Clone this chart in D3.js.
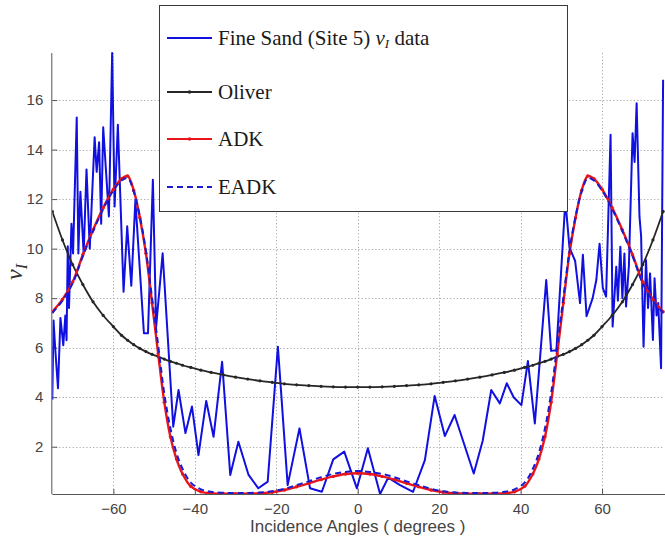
<!DOCTYPE html>
<html>
<head>
<meta charset="utf-8">
<script src="https://cdn.jsdelivr.net/npm/d3@7"></script>
<style>
  body { margin: 0; background: #fff; }
  svg { display: block; }
</style>
</head>
<body>
<svg id="chart" width="665" height="539"></svg>
<script>
// Measured Poisson-ratio-like parameter for fine sand, versus incidence angle
const dataAngles = [
  -75, -74.7, -74.3, -73.6, -73.0, -72.3, -71.8, -71.5, -71.2, -70.9, -70.3, -69.9,
  -69.0, -68.6, -68.1, -67.3, -66.6, -65.8, -64.6, -64.1, -63.5, -63.0, -62.5, -61.1,
  -60.3, -59.7, -58.9, -57.5, -56.6, -55.6, -54.6, -52.5, -51.5, -50.3, -49.5, -47.9,
  -45.3, -44.0, -42.3, -40.7, -39.1, -37.2, -35.4, -33.3, -31.3, -29.3, -26.8, -24.4,
  -22.1, -19.6, -17.2, -14.3, -11.7, -8.8, -6.0, -3.3, -0.2, 2.5, 5.5, 7.5,
  10.4, 13.6, 16.5, 18.9, 21.4, 23.8, 28.5, 30.7, 32.8, 34.9, 36.6, 38.3,
  40.2, 41.8, 43.5, 46.3, 47.5, 48.8, 51.0, 52.0, 53.4, 54.6, 55.3, 56.2,
  57.7, 58.6, 59.4, 60.2, 61.0, 62.1, 62.6, 63.5, 63.9, 64.5, 65.0, 65.5,
  65.9, 66.6, 67.5, 68.0, 68.5, 69.2, 69.6, 70.2, 70.8, 71.3, 71.8, 72.5,
  72.9, 73.4, 73.8, 74.5, 75.0
];
const dataValues = [
  3.9, 7.1, 6.0, 4.36, 7.2, 6.1, 7.3, 6.3, 10.1, 7.6, 11.0, 9.8,
  15.3, 9.8, 12.3, 9.8, 13.2, 10.0, 14.5, 13.1, 14.3, 11.0, 14.9, 11.3,
  17.9, 11.7, 15.0, 8.26, 10.9, 8.5, 11.95, 6.58, 6.58, 12.78, 6.85, 9.81,
  2.81, 4.29, 2.55, 3.62, 1.66, 3.85, 2.4, 5.43, 0.86, 2.2, 0.86, 0.32,
  0.59, 6.04, 0.45, 2.74, 0.32, 0.18, 1.49, 1.8, 0.32, 1.94, 0.09, 0.75,
  0.45, 0.18, 1.46, 4.05, 2.43, 3.28, 0.92, 2.24, 4.29, 3.75, 4.56, 4.0,
  3.68, 5.46, 2.94, 8.73, 5.87, 5.9, 11.95, 10.05, 9.5, 7.8, 9.75, 7.27,
  8.0, 8.73, 10.2, 8.4, 8.06, 14.6, 6.85, 9.27, 7.9, 10.08, 8.0, 9.8,
  7.66, 9.3, 14.66, 13.5, 15.87, 11.29, 10.5, 6.04, 9.54, 7.6, 9.0, 6.31,
  8.8, 7.3, 7.8, 5.17, 16.82
];

// Model curves share one angle grid
const modelAngles = [
  -75, -72.5, -70, -67.5, -65, -62.5, -60, -58, -56.5, -55, -53.5, -52, -50.5,
  -49, -47.5, -46, -44.5, -43, -41, -38.5, -36, -33, -30, -27, -24, -21, -18,
  -15, -12, -9, -6, -3, 0,
  3, 6, 9, 12, 15, 18, 21, 24, 27, 30, 33, 36, 38.5, 41, 43, 44.5, 46, 47.5,
  49, 50.5, 52, 53.5, 55, 56.5, 58, 60, 62.5, 65, 67.5, 70, 72.5, 75
];
const oliverValues = [
  11.5, 10.35, 9.35, 8.55, 7.85, 7.3, 6.85, 6.5, 6.3, 6.12, 5.97, 5.84, 5.73,
  5.64, 5.54, 5.45, 5.37, 5.29, 5.2, 5.09, 5.0, 4.9, 4.81, 4.73, 4.66, 4.6, 4.54,
  4.5, 4.47, 4.44, 4.42, 4.41, 4.41,
  4.41, 4.42, 4.44, 4.47, 4.5, 4.54, 4.6, 4.66, 4.73, 4.81, 4.9, 5.0, 5.09, 5.2,
  5.29, 5.37, 5.45, 5.54, 5.64, 5.73, 5.84, 5.97, 6.12, 6.3, 6.5, 6.85, 7.3,
  7.85, 8.55, 9.35, 10.35, 11.5
];
const adkValues = [
  7.45, 7.95, 8.65, 9.75, 10.75, 11.65, 12.4, 12.82, 12.93, 12.35, 11.25, 9.8, 7.8,
  5.75, 3.8, 2.4, 1.5, 0.9, 0.4, 0.18, 0.12, 0.1, 0.1, 0.1, 0.12, 0.16, 0.25,
  0.38, 0.52, 0.67, 0.8, 0.9, 0.93,
  0.9, 0.8, 0.67, 0.52, 0.38, 0.25, 0.16, 0.12, 0.1, 0.1, 0.1, 0.12, 0.18, 0.4,
  0.9, 1.5, 2.4, 3.8, 5.75, 7.8, 9.8, 11.25, 12.35, 12.93, 12.82, 12.4, 11.65,
  10.75, 9.75, 8.65, 7.95, 7.45
];
const eadkValues = [
  7.4, 7.9, 8.6, 9.7, 10.7, 11.6, 12.35, 12.75, 12.85, 12.3, 11.3, 9.9, 8.0,
  6.1, 4.15, 2.75, 1.75, 1.1, 0.55, 0.28, 0.18, 0.14, 0.13, 0.13, 0.15, 0.2, 0.3,
  0.45, 0.6, 0.77, 0.9, 0.98, 1.02,
  0.98, 0.9, 0.77, 0.6, 0.45, 0.3, 0.2, 0.15, 0.13, 0.13, 0.14, 0.18, 0.28, 0.55,
  1.1, 1.75, 2.75, 4.15, 6.1, 8.0, 9.9, 11.3, 12.3, 12.85, 12.75, 12.35, 11.6,
  10.7, 9.7, 8.6, 7.9, 7.4
];

const xTicks = [-60, -40, -20, 0, 20, 40, 60];
const yTicks = [2, 4, 6, 8, 10, 12, 14, 16];
const xDomain = [-75, 75];
const yDomain = [0.09, 17.9];

const svg = d3.select('#chart');
const plot = { left: 52.3, right: 663.1, top: 53, bottom: 494 };

const x = d3.scaleLinear().domain(xDomain).range([plot.left, plot.right]);
const y = d3.scaleLinear().domain(yDomain).range([plot.bottom, plot.top]);

const sansFont = "'Liberation Sans', Arial, Helvetica, sans-serif";
const serifFont = "'Liberation Serif', 'Times New Roman', serif";

// dotted grid
const grid = svg.append('g').attr('stroke', '#a8a8a8').attr('stroke-width', 1)
  .attr('stroke-dasharray', '1.2,2.2');
grid.selectAll('line.gx').data(xTicks).join('line')
  .attr('x1', d => Math.round(x(d)) + 0.5).attr('x2', d => Math.round(x(d)) + 0.5)
  .attr('y1', plot.top).attr('y2', plot.bottom);
grid.selectAll('line.gy').data(yTicks).join('line')
  .attr('y1', d => Math.round(y(d)) + 0.5).attr('y2', d => Math.round(y(d)) + 0.5)
  .attr('x1', plot.left).attr('x2', plot.right);

// axes
const xAxis = d3.axisBottom(x).tickValues(xTicks).tickSizeInner(-5).tickSizeOuter(0)
  .tickPadding(9).tickFormat(d => d < 0 ? '\u2212' + Math.abs(d) : String(d));
const gx = svg.append('g').attr('transform', `translate(0,${plot.bottom})`).call(xAxis);
gx.select('.domain').attr('stroke', '#555').attr('d', `M${plot.left},0.5H${plot.right + 2}`);
gx.selectAll('.tick line').attr('stroke', '#555');
gx.selectAll('.tick text').attr('fill', '#444').attr('font-family', sansFont).attr('font-size', 15);

const yAxis = d3.axisLeft(y).tickValues(yTicks).tickSizeInner(-5).tickSizeOuter(0)
  .tickPadding(9);
const gy = svg.append('g').attr('transform', `translate(${plot.left},0)`).call(yAxis);
gy.select('.domain').attr('stroke', '#555').attr('d', `M-0.5,${plot.top}V${plot.bottom}`);
gy.selectAll('.tick line').attr('stroke', '#555');
gy.selectAll('.tick text').attr('fill', '#444').attr('font-family', sansFont).attr('font-size', 15);

// series
const clip = svg.append('clipPath').attr('id', 'plotclip').append('rect')
  .attr('x', plot.left).attr('y', plot.top - 3)
  .attr('width', plot.right - plot.left + 3).attr('height', plot.bottom - plot.top + 3);

const series = svg.append('g').attr('clip-path', 'url(#plotclip)');

const dataLine = d3.line().x((d, i) => x(dataAngles[i])).y(d => y(d));
series.append('path').datum(dataValues)
  .attr('d', dataLine).attr('fill', 'none')
  .attr('stroke', '#1010e0').attr('stroke-width', 2).attr('stroke-linejoin', 'round');

const modelLine = d3.line().x((d, i) => x(modelAngles[i])).y(d => y(d))
  .curve(d3.curveCatmullRom.alpha(0.5));

series.append('path').datum(oliverValues)
  .attr('d', modelLine).attr('fill', 'none').attr('stroke', '#262626').attr('stroke-width', 1.8);
series.append('g').selectAll('circle').data(oliverValues).join('circle')
  .attr('cx', (d, i) => x(modelAngles[i])).attr('cy', d => y(d)).attr('r', 1.6)
  .attr('fill', '#262626');

series.append('path').datum(adkValues)
  .attr('d', modelLine).attr('fill', 'none').attr('stroke', '#e8141a').attr('stroke-width', 2.4);
series.append('g').selectAll('circle').data(adkValues).join('circle')
  .attr('cx', (d, i) => x(modelAngles[i])).attr('cy', d => y(d)).attr('r', 1.7)
  .attr('fill', '#e8141a');

series.append('path').datum(eadkValues)
  .attr('d', modelLine).attr('fill', 'none').attr('stroke', '#1a1ad0')
  .attr('stroke-width', 2).attr('stroke-dasharray', '6,4');

// axis titles
svg.append('text')
  .attr('x', x(0)).attr('y', 532)
  .attr('text-anchor', 'middle').attr('fill', '#444')
  .attr('font-family', sansFont).attr('font-size', 17)
  .text('Incidence Angles ( degrees )');

const yl = svg.append('text')
  .attr('transform', 'translate(22,272) rotate(-90)')
  .attr('text-anchor', 'middle').attr('fill', '#333')
  .attr('font-family', serifFont).attr('font-style', 'italic').attr('font-size', 24);
yl.append('tspan').text('\u03bd');
yl.append('tspan').attr('dy', 5).attr('font-size', 16).text('I');

// legend
const legendItems = [
  { label: 'Fine Sand (Site 5) ', sub: true, color: '#1010e0', dash: null, marker: false, width: 2 },
  { label: 'Oliver', color: '#262626', dash: null, marker: true, width: 1.8 },
  { label: 'ADK', color: '#e8141a', dash: null, marker: true, width: 2.2 },
  { label: 'EADK', color: '#1a1ad0', dash: '6,4', marker: false, width: 2 }
];
const legendRows = [38, 92, 139, 187];

const lg = svg.append('g');
lg.append('rect').attr('x', 159.5).attr('y', 5.5).attr('width', 408).attr('height', 206)
  .attr('fill', '#fff').attr('stroke', '#3a3a3a').attr('stroke-width', 1);

legendItems.forEach((it, i) => {
  const row = legendRows[i];
  lg.append('line').attr('x1', 167).attr('x2', 212).attr('y1', row).attr('y2', row)
    .attr('stroke', it.color).attr('stroke-width', it.width)
    .attr('stroke-dasharray', it.dash);
  if (it.marker) {
    lg.append('circle').attr('cx', 189.5).attr('cy', row).attr('r', 1.8).attr('fill', it.color);
  }
  const t = lg.append('text').attr('x', 218).attr('y', row + 7)
    .attr('font-family', serifFont).attr('font-size', 21).attr('fill', '#1a1a1a');
  t.append('tspan').text(it.label);
  if (it.sub) {
    t.append('tspan').attr('font-style', 'italic').text('\u03bd');
    t.append('tspan').attr('font-style', 'italic').attr('font-size', 13).attr('dy', 3).text('I');
    t.append('tspan').attr('dy', -3).text(' data');
  }
});
</script>
</body>
</html>
